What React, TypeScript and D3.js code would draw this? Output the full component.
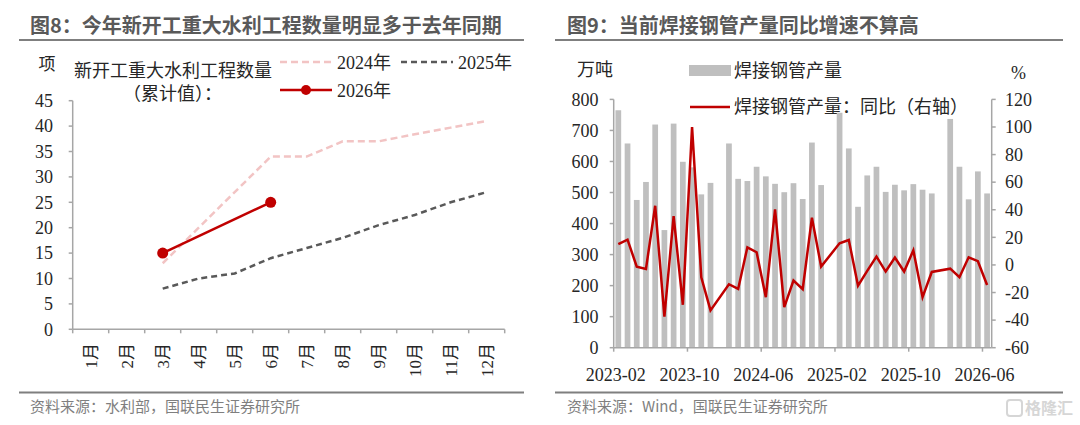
import { useEffect, useRef } from 'react';
import * as d3 from 'd3';

// left chart: new major water projects (cumulative)
const monthsCN = ['1月', '2月', '3月', '4月', '5月', '6月', '7月', '8月', '9月', '10月', '11月', '12月'];
const y2024: (number | null)[] = [null, null, 13, 20, 27, 34, 34, 37, 37, 38.4, 39.7, 41];
const y2025: (number | null)[] = [null, null, 8, 10, 11, 14, 16, 18, 20.5, 22.5, 25, 27];
const y2026: (number | null)[] = [null, null, 15, null, null, 25, null, null, null, null, null, null];
const leftTicks = [0, 5, 10, 15, 20, 25, 30, 35, 40, 45];

// right chart: welded steel pipe output
const pipeMonths = [
  '2023-02', '2023-03', '2023-04', '2023-05', '2023-06', '2023-07', '2023-08', '2023-09', '2023-10', '2023-11', '2023-12',
  '2024-01', '2024-02', '2024-03', '2024-04', '2024-05', '2024-06', '2024-07', '2024-08', '2024-09', '2024-10', '2024-11', '2024-12',
  '2025-01', '2025-02', '2025-03', '2025-04', '2025-05', '2025-06', '2025-07', '2025-08', '2025-09', '2025-10', '2025-11', '2025-12',
  '2026-01', '2026-02', '2026-03', '2026-04', '2026-05', '2026-06',
];
const pipeOutput: (number | null)[] = [
  765, 658, 476, 534, 719, 379, 722, 599, 581, 494, 531,
  null, 658, 544, 537, 583, 552, 528, 501, 530, 479, 661, 524,
  null, 757, 642, 454, 555, 583, 502, 525, 507, 527, 509, 497,
  null, 737, 583, 478, 568, 497,
];
const pipeYoY: (number | null)[] = [
  15, 18.3, -1.2, -2.9, 42.9, -37.4, 35.4, -28.9, 100, -8.9, -33,
  null, -14, -17.4, 12.8, 9.2, -23.4, 40.3, -30.6, -11.3, -17.6, 34.2, -1.2,
  null, 15.7, 18.1, -15, -4.3, 6, -4.8, 5.3, -4.8, 10.6, -23.4, -5.1,
  null, -2.7, -8.9, 5.5, 2.7, -14.5,
];
const pipeTickLabels = ['2023-02', '2023-10', '2024-06', '2025-02', '2025-10', '2026-06'];
const leftAxisTicks = [0, 100, 200, 300, 400, 500, 600, 700, 800];
const rightAxisTicks = [-60, -40, -20, 0, 20, 40, 60, 80, 100, 120];

const RED = '#c00000';
const AXIS = '#a6a6a6';
const TITLE = '#595959';
const SERIF = "'Liberation Serif', 'Noto Sans CJK SC', serif";
const SANS = "'Noto Sans CJK SC', 'Noto Sans', sans-serif";

export default function App() {
  const svgRef = useRef<SVGSVGElement>(null);

  useEffect(() => {
    if (!svgRef.current) return;
    const svg = d3.select(svgRef.current);
    svg.selectAll('*').remove();

    // ---------- left panel ----------
    svg.append('text').attr('x', 30).attr('y', 33)
      .style('font-family', SANS).style('font-size', '20px').style('font-weight', 700)
      .style('fill', TITLE).text('图8：今年新开工重大水利工程数量明显多于去年同期');
    svg.append('line').attr('x1', 19).attr('x2', 524).attr('y1', 40).attr('y2', 40)
      .attr('stroke', '#7f7f7f').attr('stroke-width', 2);

    const lx = d3.scaleBand().domain(monthsCN).range([72.7, 504.7]).padding(0);
    const ly = d3.scaleLinear().domain([0, 45]).range([329.3, 100.7]);
    const gl = svg.append('g');

    gl.append('text').attr('x', 47).attr('y', 70).attr('text-anchor', 'middle')
      .style('font-family', SERIF).style('font-size', '17px').style('fill', '#262626').text('项');
    gl.append('text').attr('x', 74).attr('y', 77)
      .style('font-family', SERIF).style('font-size', '18px').style('fill', '#262626').text('新开工重大水利工程数量');
    gl.append('text').attr('x', 123).attr('y', 100)
      .style('font-family', SERIF).style('font-size', '18px').style('fill', '#262626').text('（累计值）：');

    // legend
    const legend = [
      { x: 280, y: 62, label: '2024年', color: '#f2c4c4', dash: '7,4', w: 2.5, dot: false },
      { x: 401, y: 62, label: '2025年', color: '#595959', dash: '6,4', w: 2.5, dot: false },
      { x: 280, y: 90, label: '2026年', color: RED, dash: null, w: 2.5, dot: true },
    ];
    legend.forEach(l => {
      gl.append('line').attr('x1', l.x).attr('x2', l.x + 52).attr('y1', l.y).attr('y2', l.y)
        .attr('stroke', l.color).attr('stroke-width', l.w).attr('stroke-dasharray', l.dash);
      if (l.dot) gl.append('circle').attr('cx', l.x + 26).attr('cy', l.y).attr('r', 5).attr('fill', l.color);
      gl.append('text').attr('x', l.x + 57).attr('y', l.y + 7)
        .style('font-family', SERIF).style('font-size', '18px').style('fill', '#262626').text(l.label);
    });

    // axes
    gl.append('line').attr('x1', 72.7).attr('x2', 72.7).attr('y1', ly(45)).attr('y2', ly(0))
      .attr('stroke', AXIS).attr('stroke-width', 1.5);
    leftTicks.forEach(t => {
      gl.append('line').attr('x1', 68.7).attr('x2', 72.7).attr('y1', ly(t)).attr('y2', ly(t))
        .attr('stroke', AXIS).attr('stroke-width', 1.5);
      gl.append('text').attr('x', 53).attr('y', ly(t)).attr('dy', '0.35em').attr('text-anchor', 'end')
        .style('font-family', SERIF).style('font-size', '18px').style('fill', '#262626').text(t);
    });
    gl.append('line').attr('x1', 72.7).attr('x2', 504.7).attr('y1', ly(0)).attr('y2', ly(0))
      .attr('stroke', AXIS).attr('stroke-width', 1.5);
    d3.range(monthsCN.length + 1).forEach(i => {
      const xx = 72.7 + i * lx.step();
      gl.append('line').attr('x1', xx).attr('x2', xx).attr('y1', ly(0)).attr('y2', ly(0) + 4)
        .attr('stroke', AXIS).attr('stroke-width', 1.5);
    });
    monthsCN.forEach(m => {
      gl.append('text')
        .attr('transform', `translate(${(lx(m) ?? 0) + lx.bandwidth() / 2},343) rotate(-90)`)
        .attr('dy', '0.35em').attr('text-anchor', 'end')
        .style('font-family', SERIF).style('font-size', '17px').style('fill', '#262626').text(m);
    });

    const cx = (i: number) => (lx(monthsCN[i]) ?? 0) + lx.bandwidth() / 2;
    const lineOf = (vals: (number | null)[]) =>
      d3.line<[number, number]>().x(d => d[0]).y(d => d[1])(
        vals.map((v, i) => [i, v] as [number, number | null])
          .filter(d => d[1] !== null)
          .map(d => [cx(d[0]), ly(d[1] as number)] as [number, number])
      );

    gl.append('path').attr('d', lineOf(y2024)).attr('fill', 'none')
      .attr('stroke', '#f2c4c4').attr('stroke-width', 2.5).attr('stroke-dasharray', '7,4');
    gl.append('path').attr('d', lineOf(y2025)).attr('fill', 'none')
      .attr('stroke', '#595959').attr('stroke-width', 2.5).attr('stroke-dasharray', '6,4');
    gl.append('path').attr('d', lineOf(y2026)).attr('fill', 'none')
      .attr('stroke', RED).attr('stroke-width', 2.5);
    y2026.forEach((v, i) => {
      if (v === null) return;
      gl.append('circle').attr('cx', cx(i)).attr('cy', ly(v)).attr('r', 5.5).attr('fill', RED);
    });

    // ---------- right panel ----------
    svg.append('text').attr('x', 567).attr('y', 33)
      .style('font-family', SANS).style('font-size', '20px').style('font-weight', 700)
      .style('fill', TITLE).text('图9：当前焊接钢管产量同比增速不算高');
    svg.append('line').attr('x1', 555).attr('x2', 1063).attr('y1', 40).attr('y2', 40)
      .attr('stroke', '#7f7f7f').attr('stroke-width', 2);

    const gr = svg.append('g');
    const rx = d3.scaleBand().domain(pipeMonths).range([613.7, 991.7]).paddingInner(0.38).paddingOuter(0.19);
    const ry = d3.scaleLinear().domain([0, 800]).range([347.7, 99.4]);
    const ry2 = d3.scaleLinear().domain([-60, 120]).range([347.7, 99.4]);

    gr.append('text').attr('x', 577).attr('y', 76)
      .style('font-family', SERIF).style('font-size', '18px').style('fill', '#262626').text('万吨');
    gr.append('text').attr('x', 1011).attr('y', 79)
      .style('font-family', SERIF).style('font-size', '18px').style('fill', '#262626').text('%');
    gr.append('rect').attr('x', 689).attr('y', 65).attr('width', 42).attr('height', 11).attr('fill', '#bfbfbf');
    gr.append('text').attr('x', 734).attr('y', 77)
      .style('font-family', SERIF).style('font-size', '18px').style('fill', '#262626').text('焊接钢管产量');
    gr.append('line').attr('x1', 690).attr('x2', 730).attr('y1', 107).attr('y2', 107)
      .attr('stroke', RED).attr('stroke-width', 2.5);
    gr.append('text').attr('x', 734).attr('y', 113)
      .style('font-family', SERIF).style('font-size', '18px').style('fill', '#262626').text('焊接钢管产量：同比（右轴）');

    // bars
    gr.selectAll('.bar')
      .data(pipeMonths.map((m, i) => ({ m, v: pipeOutput[i] })).filter(d => d.v !== null))
      .join('rect')
      .attr('class', 'bar')
      .attr('x', d => rx(d.m) ?? 0)
      .attr('y', d => ry(d.v as number))
      .attr('width', rx.bandwidth())
      .attr('height', d => ry(0) - ry(d.v as number))
      .attr('fill', '#bfbfbf');

    // axes
    const boundary = (m: string) => (rx(m) ?? 0) + rx.bandwidth() / 2 - rx.step() / 2;
    gr.append('line').attr('x1', 613.7).attr('x2', 613.7).attr('y1', 99.4).attr('y2', 347.7)
      .attr('stroke', AXIS).attr('stroke-width', 1.5);
    leftAxisTicks.forEach(t => {
      gr.append('line').attr('x1', 609.7).attr('x2', 613.7).attr('y1', ry(t)).attr('y2', ry(t))
        .attr('stroke', AXIS).attr('stroke-width', 1.5);
      gr.append('text').attr('x', 598.5).attr('y', ry(t)).attr('dy', '0.35em').attr('text-anchor', 'end')
        .style('font-family', SERIF).style('font-size', '18px').style('fill', '#262626').text(t);
    });
    gr.append('line').attr('x1', 991.7).attr('x2', 991.7).attr('y1', 99.4).attr('y2', 347.7)
      .attr('stroke', AXIS).attr('stroke-width', 1.5);
    rightAxisTicks.forEach(t => {
      gr.append('line').attr('x1', 991.7).attr('x2', 995.7).attr('y1', ry2(t)).attr('y2', ry2(t))
        .attr('stroke', AXIS).attr('stroke-width', 1.5);
      gr.append('text').attr('x', 1005).attr('y', ry2(t)).attr('dy', '0.35em')
        .style('font-family', SERIF).style('font-size', '18px').style('fill', '#262626').text(t);
    });
    gr.append('line').attr('x1', 613.7).attr('x2', 991.7).attr('y1', ry(0)).attr('y2', ry(0))
      .attr('stroke', AXIS).attr('stroke-width', 1.5);
    pipeTickLabels.forEach(m => {
      const xx = boundary(m);
      gr.append('line').attr('x1', xx).attr('x2', xx).attr('y1', ry(0)).attr('y2', ry(0) + 4)
        .attr('stroke', AXIS).attr('stroke-width', 1.5);
      gr.append('text').attr('x', xx + 2).attr('y', 381).attr('text-anchor', 'middle')
        .style('font-family', SERIF).style('font-size', '18px').style('fill', '#262626').text(m);
    });

    // yoy line
    const yoyPts = pipeMonths
      .map((m, i) => ({ m, v: pipeYoY[i] }))
      .filter(d => d.v !== null)
      .map(d => [(rx(d.m) ?? 0) + rx.bandwidth() / 2, ry2(d.v as number)] as [number, number]);
    gr.append('path').attr('d', d3.line()(yoyPts)).attr('fill', 'none')
      .attr('stroke', RED).attr('stroke-width', 2.5);

    // ---------- footers ----------
    [[19, 524], [555, 1063]].forEach(([a, b]) => {
      svg.append('line').attr('x1', a).attr('x2', b).attr('y1', 392.5).attr('y2', 392.5)
        .attr('stroke', '#7f7f7f').attr('stroke-width', 2);
    });
    svg.append('text').attr('x', 30).attr('y', 412)
      .style('font-family', SANS).style('font-size', '15px').style('fill', '#7f7f7f')
      .text('资料来源：水利部，国联民生证券研究所');
    svg.append('text').attr('x', 567).attr('y', 412)
      .style('font-family', SANS).style('font-size', '15px').style('fill', '#7f7f7f')
      .text('资料来源：Wind，国联民生证券研究所');

    // watermark
    svg.append('rect').attr('x', 1007).attr('y', 400).attr('width', 15).attr('height', 16).attr('rx', 3)
      .attr('fill', 'none').attr('stroke', '#d6d6d6').attr('stroke-width', 2);
    svg.append('text').attr('x', 1025).attr('y', 414)
      .style('font-family', SANS).style('font-size', '16px').style('font-weight', 700).style('fill', '#d6d6d6')
      .text('格隆汇');
  }, []);

  return (
    <div style={{ position: 'absolute', left: 0, top: 0, width: 1080, height: 425, background: '#fff' }}>
      <svg ref={svgRef} width={1080} height={425} style={{ display: 'block' }}></svg>
    </div>
  );
}
